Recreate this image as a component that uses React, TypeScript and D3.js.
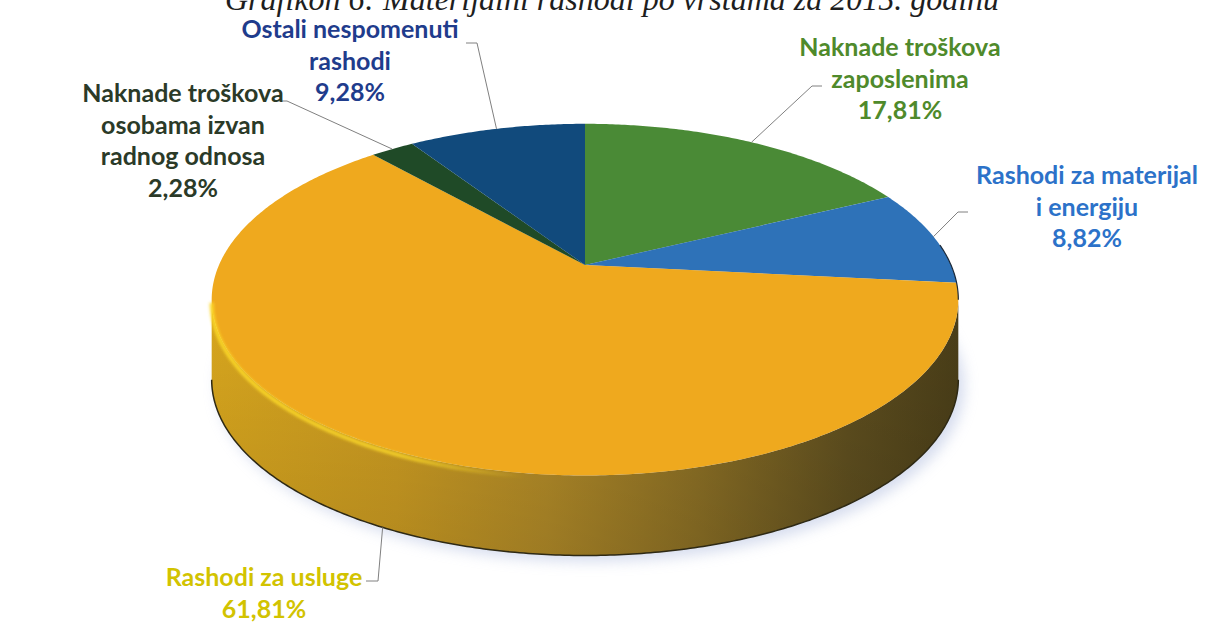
import React from "react";
import * as d3 from "d3";

// chart data
const categories = [
  "Naknade troškova zaposlenima",
  "Rashodi za materijal i energiju",
  "Rashodi za usluge",
  "Naknade troškova osobama izvan radnog odnosa",
  "Ostali nespomenuti rashodi",
];
const shares = [17.81, 8.82, 61.81, 2.28, 9.28];
const labelLines = [
  ["Naknade troškova", "zaposlenima"],
  ["Rashodi za materijal", "i energiju"],
  ["Rashodi za usluge"],
  ["Naknade troškova", "osobama izvan", "radnog odnosa"],
  ["Ostali nespomenuti", "rashodi"],
];
const topColors = ["#4a8a36", "#2e72b8", "#efa91e", "#1f4a27", "#114a7c"];
const textColors = ["#4f8a2b", "#2c72c9", "#d2c300", "#2b3a28", "#1f3c8c"];

const title = "Grafikon 6: Materijalni rashodi po vrstama za 2015. godinu";

const W = 1208;
const H = 643;
const cx = 585;
const cy = 265;
const A = 366; // horizontal radius
const B = 169; // depth radius
const K = 0.197; // perspective factor
const D = 80; // side thickness

// label layout: center x, first baseline, leader start (x,y)
const labelPos = [
  { x: 900, y: 56, lx: [822, 812], ly: 86 },
  { x: 1087, y: 184, lx: [968, 958], ly: 212 },
  { x: 264, y: 586, lx: [366, 378], ly: 581 },
  { x: 183, y: 102, lx: [274, 287], ly: 101 },
  { x: 350, y: 38, lx: [466, 477], ly: 43 },
];
const lineH = 31.5;

const proj = (t: number): [number, number] => {
  const u = Math.sin(t);
  const v = Math.cos(t);
  const w = 1 + K * v;
  return [cx + (A * u) / w, cy - (B * v) / w];
};

const arcPts = (a0: number, a1: number, dy = 0) => {
  const n = Math.max(2, Math.ceil(Math.abs(a1 - a0) / 0.01));
  return d3.range(n + 1).map((i) => {
    const p = proj(a0 + ((a1 - a0) * i) / n);
    return [p[0], p[1] + dy] as [number, number];
  });
};

const App = () => {
  const pie = d3
    .pie<number>()
    .sort(null)
    .value((d) => d);
  const arcs = pie(shares);
  const line = d3.line();

  const sideA = Math.acos(-K);
  const sideB = 2 * Math.PI - sideA;

  const fmt = (v: number) => v.toFixed(2).replace(".", ",") + "%";

  const topPath = (a: d3.PieArcDatum<number>) => {
    const pts = arcPts(a.startAngle, a.endAngle);
    return line([[cx, cy], ...pts]) + "Z";
  };

  const sides = arcs
    .map((a, i) => {
      const s = Math.max(a.startAngle, sideA);
      const e = Math.min(a.endAngle, sideB);
      if (e <= s) return null;
      const top = arcPts(s, e);
      const bot = arcPts(e, s, D);
      return { i, d: line([...top, ...bot]) + "Z" };
    })
    .filter(Boolean) as { i: number; d: string }[];

  const outline = line([...arcPts(sideA, sideB, D)]) as string;
  const shadowPath = line([...arcPts(0, 2 * Math.PI, D)]) + "Z";

  return (
    <svg
      width={W}
      height={H}
      style={{ position: "absolute", left: 0, top: 0, background: "#fff" }}
      fontFamily="Lato, 'Open Sans', sans-serif"
    >
      <defs>
        <linearGradient id="sideGrad" gradientUnits="userSpaceOnUse" x1={cx - A - 10} x2={cx + A + 10} y1={0} y2={0}>
          <stop offset="0" stopColor="#d9a71e" />
          <stop offset="0.25" stopColor="#cc9c22" />
          <stop offset="0.45" stopColor="#b28b28" />
          <stop offset="0.65" stopColor="#8c7025" />
          <stop offset="0.85" stopColor="#5f4f1f" />
          <stop offset="1" stopColor="#4a3e18" />
        </linearGradient>
        <linearGradient id="sideShade" gradientUnits="userSpaceOnUse" x1={0} x2={0} y1={cy + 20} y2={cy + B * 1.25 + D}>
          <stop offset="0" stopColor="#000" stopOpacity="0" />
          <stop offset="1" stopColor="#000" stopOpacity="0.12" />
        </linearGradient>
        <linearGradient id="hiGrad" gradientUnits="userSpaceOnUse" x1={cx - A} x2={cx - 60} y1={0} y2={0}>
          <stop offset="0" stopColor="#fcd828" stopOpacity="0.95" />
          <stop offset="0.6" stopColor="#fcd828" stopOpacity="0.85" />
          <stop offset="1" stopColor="#fcd828" stopOpacity="0" />
        </linearGradient>
        <filter id="blurShadow" x="-20%" y="-20%" width="140%" height="140%">
          <feGaussianBlur stdDeviation="7" />
        </filter>
        <filter id="blurHi" x="-20%" y="-20%" width="140%" height="140%">
          <feGaussianBlur stdDeviation="1.8" />
        </filter>
      </defs>

      <text
        x={612}
        y={10}
        textAnchor="middle"
        fontFamily="'Liberation Serif', 'DejaVu Serif', serif"
        fontStyle="italic"
        fontSize={32}
        fill="#1e1e1e"
      >
        {title}
      </text>

      <path d={shadowPath} transform="translate(6,6)" fill="#b4c0e0" opacity={0.55} filter="url(#blurShadow)" />

      {sides.map((s) => (
        <g key={"s" + s.i}>
          <path d={s.d} fill={s.i === 2 ? "url(#sideGrad)" : d3.color(topColors[s.i])!.darker(1).toString()} />
          <path d={s.d} fill="url(#sideShade)" />
        </g>
      ))}
      <path d={outline} fill="none" stroke="#2e2914" strokeWidth={1.5} />

      {arcs.map((a, i) => (
        <path key={categories[i]} d={topPath(a)} fill={topColors[i]} />
      ))}

      <path
        d={line(arcPts(Math.PI * 0.98, sideB, 3)) as string}
        fill="none"
        stroke="url(#hiGrad)"
        strokeWidth={4}
        filter="url(#blurHi)"
      />
      <path
        d={line(arcPts(1.45, sideA)) as string}
        fill="none"
        stroke="#1c2a3a"
        strokeWidth={1.2}
      />

      {arcs.map((a, i) => {
        const mid = (a.startAngle + a.endAngle) / 2;
        const p = proj(mid);
        const front = mid > sideA && mid < sideB;
        const end: [number, number] = [p[0], p[1] + (front ? D : 0)];
        const lp = labelPos[i];
        const pts: [number, number][] = [[lp.lx[0], lp.ly], [lp.lx[1], lp.ly], end];
        const lines = [...labelLines[i], fmt(shares[i])];
        return (
          <g key={"l" + i}>
            <path d={line(pts) as string} fill="none" stroke="#808080" strokeWidth={1} />
            <text
              x={lp.x}
              y={lp.y}
              textAnchor="middle"
              fontWeight="bold"
              fontSize={25}
              fill={textColors[i]}
            >
              {lines.map((t, j) => (
                <tspan key={j} x={lp.x} y={lp.y + j * lineH}>
                  {t}
                </tspan>
              ))}
            </text>
          </g>
        );
      })}
    </svg>
  );
};

export default App;
